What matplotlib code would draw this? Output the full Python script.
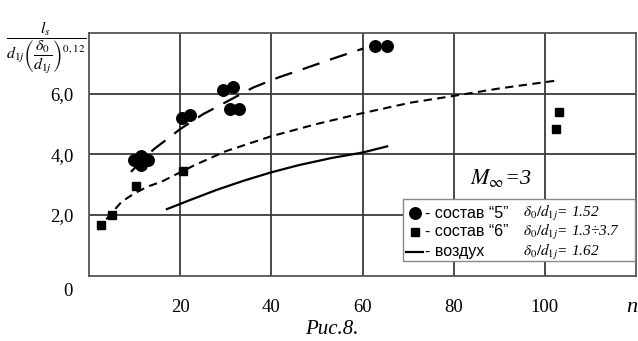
import numpy as np
import matplotlib.pyplot as plt
from matplotlib.patches import Rectangle
from matplotlib.lines import Line2D

plt.rcParams['font.family'] = ['Liberation Serif', 'DejaVu Serif']
plt.rcParams['mathtext.fontset'] = 'stix'

# состав "5" (кружки)
n5 = [9.9, 11.4, 11.4, 12.9, 20.4, 22.2, 29.4, 31.7, 31.0, 33.0, 62.7, 65.4]
y5 = [3.82, 3.95, 3.65, 3.82, 5.20, 5.31, 6.11, 6.21, 5.50, 5.50, 7.56, 7.56]

# состав "6" (квадраты)
n6 = [2.6, 5.0, 10.3, 20.7, 102.4, 103.0]
y6 = [1.65, 2.0, 2.94, 3.45, 4.82, 5.40]

# аппроксимирующие кривые
n5_fit = [9.2, 14.1, 20.0, 25.0, 31.4, 36.0, 41.5, 47.9, 54.0, 60.2]
y5_fit = [3.42, 4.15, 4.83, 5.32, 5.83, 6.20, 6.53, 6.86, 7.18, 7.49]

n6_fit = [1.9, 4.6, 7.2, 10.1, 13.0, 16.0, 18.9, 23.3, 30.0, 39.9, 50.0, 60.1, 70.5, 80.2, 90.0, 102.5]
y6_fit = [1.50, 2.00, 2.44, 2.72, 2.94, 3.10, 3.32, 3.65, 4.10, 4.59, 5.00, 5.36, 5.70, 5.93, 6.17, 6.43]

n_air = [17.1, 22.0, 28.1, 34.0, 39.9, 46.0, 53.0, 60.1, 65.4]
y_air = [2.19, 2.48, 2.83, 3.13, 3.40, 3.64, 3.87, 4.06, 4.26]

xticks = [20, 40, 60, 80, 100]
yticks = [2, 4, 6]
ylabels = ['2,0', '4,0', '6,0']

W, H = 638, 341
fig = plt.figure(figsize=(W / 100, H / 100), dpi=100)


def fx(x):
    return x / W


def fy(y):
    return 1 - y / H


ax = fig.add_axes([fx(89), fy(275.5), fx(636) - fx(89), fy(33) - fy(275.5)])
ax.set_xlim(0, 120)
ax.set_ylim(0, 8)

gc = '#3a3a3a'
ax.set_xticks(xticks)
ax.set_yticks(yticks)
ax.set_yticklabels(ylabels)
ax.grid(True, color=gc, lw=1.3)
ax.tick_params(length=0, labelsize=13.5)
ax.tick_params(axis='x', pad=17)
ax.tick_params(axis='y', pad=11)
for s in ax.spines.values():
    s.set_color('#555555')
    s.set_linewidth(1.3)

ax.plot(n5_fit, y5_fit, color='black', lw=1.6, dashes=(8, 5))
ax.plot(n6_fit, y6_fit, color='black', lw=1.5, dashes=(4, 2.6))
ax.plot(n_air, y_air, color='black', lw=1.6)

ax.plot(n5, y5, 'o', color='black', ms=8.3, mec='black')
ax.plot(n6, y6, 's', color='black', ms=5.5)

# легенда
lx0, ly0, lx1, ly1 = 403, 199, 635, 261
ax.add_patch(Rectangle((fx(lx0), fy(ly1)), fx(lx1) - fx(lx0), fy(ly0) - fy(ly1),
                       transform=fig.transFigure, facecolor='white',
                       edgecolor='#888888', lw=1.0, zorder=5))
rows = [213, 232, 251.5]
names = ['- состав “5”', '- состав “6”', '- воздух']
ratios = [r'$\delta_0/d_{1j}$= 1.52', r'$\delta_0/d_{1j}$= 1.3÷3.7', r'$\delta_0/d_{1j}$= 1.62']
fig.add_artist(Line2D([fx(415)], [fy(rows[0])], marker='o', ms=8.3, color='black', zorder=6))
fig.add_artist(Line2D([fx(415)], [fy(rows[1])], marker='s', ms=5.5, color='black', zorder=6))
fig.add_artist(Line2D([fx(406), fx(423)], [fy(rows[2]), fy(rows[2])], lw=1.6, color='black', zorder=6))
for r, nm, rt in zip(rows, names, ratios):
    fig.text(fx(425), fy(r), nm, fontsize=11.5, family=['Liberation Sans', 'DejaVu Sans'],
             va='center', ha='left', zorder=7)
    fig.text(fx(523), fy(r), rt, fontsize=11, style='italic', va='center', ha='left', zorder=7)

fig.text(fx(501), fy(178), r'$M_{\infty}$=3', fontsize=16, style='italic', ha='center', va='center')

# подпись оси ординат
fig.text(fx(46), fy(48),
         r'$\dfrac{l_s}{d_{1j}\left(\dfrac{\delta_0}{d_{1j}}\right)^{0,12}}$',
         fontsize=11.5, ha='center', va='center')

fig.text(fx(68), fy(292), '0', fontsize=13.5, ha='center', va='center')
fig.text(fx(626), fy(307), 'n', fontsize=16, style='italic', ha='left', va='center')
fig.text(fx(305), fy(330), 'Рис.8.', fontsize=15, style='italic', ha='left', va='center')

fig.savefig('out.png', dpi=100)
